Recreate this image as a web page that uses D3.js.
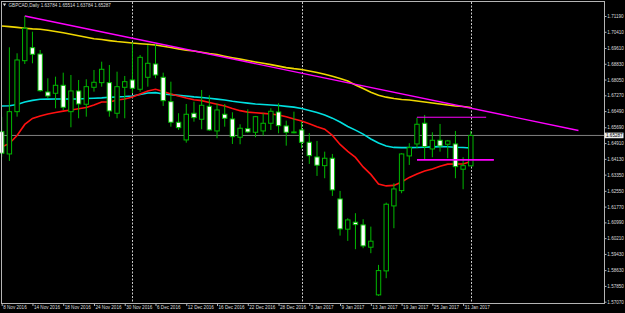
<!DOCTYPE html>
<html>
<head>
<meta charset="utf-8">
<script src="https://cdn.jsdelivr.net/npm/d3@7"></script>
<style>
html, body { margin: 0; padding: 0; background: #000; }
svg { display: block; }
</style>
</head>
<body>
<div id="chart"></div>
<script>
var width = 625,
    height = 313;

var symbol = "GBPCAD,Daily";

var dates = ["2016-11-08","2016-11-09","2016-11-10","2016-11-11","2016-11-14","2016-11-15","2016-11-16","2016-11-17","2016-11-18",
  "2016-11-21","2016-11-22","2016-11-23","2016-11-24","2016-11-25","2016-11-28","2016-11-29","2016-11-30",
  "2016-12-01","2016-12-02","2016-12-05","2016-12-06","2016-12-07","2016-12-08","2016-12-09","2016-12-12","2016-12-13",
  "2016-12-14","2016-12-15","2016-12-16","2016-12-19","2016-12-20","2016-12-21","2016-12-22","2016-12-23","2016-12-26",
  "2016-12-27","2016-12-28","2016-12-29","2016-12-30",
  "2017-01-02","2017-01-03","2017-01-04","2017-01-05","2017-01-06","2017-01-09","2017-01-10","2017-01-11","2017-01-12",
  "2017-01-13","2017-01-16","2017-01-17","2017-01-18","2017-01-19","2017-01-20","2017-01-23","2017-01-24","2017-01-25",
  "2017-01-26","2017-01-27","2017-01-30","2017-01-31","2017-02-01"];

var open = [1.65474,1.64372,1.66462,1.68981,1.69624,1.69312,1.67435,1.67371,1.67766,1.66462,
  1.67485,1.66828,1.67667,1.67895,1.67895,1.66383,1.67667,1.68028,1.67569,1.68161,
  1.68818,1.68161,1.66956,1.65938,1.65064,1.66383,1.66087,1.66729,1.65509,1.66334,
  1.66101,1.65197,1.65622,1.65444,1.65509,1.65889,1.66447,1.65756,1.65444,1.65558,
  1.64950,1.64224,1.63794,1.64160,1.62149,1.60653,1.60998,1.60865,1.59763,1.57407,
  1.58593,1.61804,1.62559,1.64274,1.64866,1.65889,1.64619,1.65049,1.64852,1.64866,
  1.63617,1.63784];

var high = [1.66200,1.69643,1.69347,1.71190,1.70414,1.69510,1.68112,1.68191,1.68389,1.68275,
  1.68028,1.68063,1.68522,1.68932,1.68769,1.68438,1.68226,1.69871,1.69263,1.69757,
  1.69806,1.68389,1.67944,1.66383,1.66842,1.66956,1.67534,1.67272,1.66877,1.66842,
  1.66432,1.65840,1.66581,1.66250,1.66383,1.66630,1.66877,1.66017,1.66462,1.65968,
  1.65395,1.65015,1.64486,1.64372,1.62545,1.61196,1.61443,1.61147,1.60781,1.58889,
  1.61967,1.62925,1.64407,1.64901,1.66166,1.66299,1.65444,1.65854,1.65064,1.65509,
  1.64209,1.65514];

var low = [1.64224,1.64027,1.66215,1.68818,1.68853,1.67450,1.67124,1.66630,1.66546,1.65691,
  1.66136,1.66215,1.67450,1.67697,1.66215,1.66136,1.66136,1.67371,1.67450,1.67697,
  1.68112,1.66744,1.65721,1.65558,1.64930,1.65968,1.65593,1.65509,1.65148,1.65721,
  1.64866,1.64852,1.65410,1.65197,1.65276,1.65558,1.65395,1.64782,1.65395,1.64654,
  1.63878,1.63286,1.63172,1.62298,1.60336,1.60075,1.59665,1.59714,1.59467,1.57358,
  1.58232,1.60702,1.62431,1.63829,1.64654,1.64076,1.64209,1.64486,1.64160,1.63172,
  1.62629,1.63784];

var close = [1.64407,1.66462,1.69016,1.70582,1.69298,1.67499,1.67238,1.67766,1.66679,1.67485,
  1.66842,1.67697,1.67914,1.68557,1.66497,1.67697,1.67944,1.67618,1.69149,1.68853,
  1.68275,1.67005,1.65938,1.65672,1.66334,1.66166,1.66778,1.65558,1.66546,1.66136,
  1.65227,1.65642,1.65459,1.66215,1.65889,1.66482,1.65770,1.65444,1.65459,1.64950,
  1.64288,1.63814,1.64160,1.62594,1.60667,1.61112,1.60880,1.59828,1.60060,1.58607,
  1.61888,1.62643,1.64372,1.64684,1.65840,1.64733,1.65049,1.64768,1.65015,1.63745,
  1.63794,1.65287];

// moving averages, one value per bar
var maRed = [1.64719,1.64892,1.65287,1.65831,1.66127,1.66251,1.66349,1.66424,1.66488,1.66547,
  1.66606,1.66671,1.66794,1.66942,1.66942,1.67041,1.67090,1.67189,1.67337,1.67486,
  1.67570,1.67461,1.67337,1.67239,1.67140,1.67051,1.67006,1.66918,1.66824,1.66745,
  1.66621,1.66512,1.66438,1.66409,1.66379,1.66349,1.66300,1.66211,1.66102,1.66004,
  1.65865,1.65722,1.65599,1.65287,1.64843,1.64497,1.64200,1.63731,1.63361,1.62891,
  1.62793,1.62817,1.62990,1.63213,1.63385,1.63534,1.63632,1.63766,1.63870,1.63879,
  1.63879,1.64003];

var maCyan = [1.66745,1.66755,1.66819,1.66942,1.67021,1.67076,1.67081,1.67090,1.67090,1.67090,
  1.67090,1.67110,1.67125,1.67145,1.67174,1.67189,1.67209,1.67239,1.67313,1.67382,
  1.67402,1.67337,1.67303,1.67268,1.67234,1.67194,1.67165,1.67125,1.67081,1.67041,
  1.66977,1.66927,1.66883,1.66843,1.66819,1.66794,1.66764,1.66725,1.66685,1.66616,
  1.66522,1.66419,1.66300,1.66142,1.65954,1.65732,1.65549,1.65352,1.65114,1.64917,
  1.64769,1.64695,1.64685,1.64685,1.64690,1.64704,1.64724,1.64734,1.64729,1.64704,
  1.64690,1.64670];

var maYellow = [1.70692,1.70667,1.70627,1.70588,1.70553,1.70534,1.70484,1.70425,1.70361,1.70292,
  1.70217,1.70138,1.70064,1.70025,1.69975,1.69931,1.69896,1.69852,1.69822,1.69793,
  1.69758,1.69694,1.69630,1.69565,1.69501,1.69462,1.69402,1.69338,1.69284,1.69205,
  1.69131,1.69057,1.68987,1.68918,1.68854,1.68785,1.68711,1.68637,1.68587,1.68548,
  1.68474,1.68400,1.68311,1.68212,1.68103,1.67980,1.67782,1.67609,1.67426,1.67278,
  1.67179,1.67115,1.67066,1.67041,1.66992,1.66942,1.66893,1.66843,1.66794,1.66745,
  1.66720,1.66671];

// drawn objects: trend line and two horizontal levels (bar index, price)
var trendLine = [[3, 1.71190], [75, 1.65534]];
var levelTop = [[54, 1.66186], [63, 1.66186]];
var levelBottom = [[54, 1.64077], [64, 1.64077]];

var priceTicks = [1.71190,1.70410,1.69610,1.68830,1.68050,1.67270,1.66490,1.65690,1.64910,1.64130,
  1.63350,1.62550,1.61770,1.60990,1.60210,1.59430,1.58630,1.57850,1.57070];

var bid = 1.65287;

var parseDate = d3.timeParse("%Y-%m-%d"),
    fmtDate = d3.timeFormat("%-d %b %Y"),
    fmtPrice = d3.format(".5f");

var days = dates.map(parseDate);
var n = dates.length;

var font = "'Liberation Sans', Arial, sans-serif",
    fontSize = "4.6px",
    green = "#00b800";

var x = d3.scaleLinear().domain([0, 78.32]).range([1.7, 604]);
var y = d3.scaleLinear().domain([1.5707, 1.7119]).range([301.7, 16]);

var svg = d3.select("#chart")
    .append("svg")
    .attr("width", width)
    .attr("height", height)
    .style("background", "#000");

svg.append("defs").append("clipPath")
    .attr("id", "plot")
  .append("rect")
    .attr("x", 0).attr("y", 1.7)
    .attr("width", 604).attr("height", 301.3);

var plot = svg.append("g").attr("clip-path", "url(#plot)");

// month separators
var sepBars = d3.range(1, n).filter(function(i) {
    return days[i].getMonth() != days[i - 1].getMonth();
});
plot.append("g").selectAll("line")
    .data(sepBars)
    .enter().append("line")
    .attr("x1", function(d) { return Math.round(x(d)) + 0.5; })
    .attr("x2", function(d) { return Math.round(x(d)) + 0.5; })
    .attr("y1", 2).attr("y2", 303)
    .style("stroke", "#c8c8c8")
    .style("stroke-dasharray", "2,1.5");

// bid line
plot.append("line")
    .attr("x1", 0).attr("x2", 604)
    .attr("y1", y(bid)).attr("y2", y(bid))
    .style("stroke", "#808080")
    .style("stroke-width", 1);

// moving averages
var maLine = d3.line()
    .x(function(d, i) { return x(i); })
    .y(function(d) { return y(d); });

[[maYellow, "#f0d800"], [maCyan, "#00e0e0"], [maRed, "#ff1010"]].forEach(function(m) {
    plot.append("path")
        .datum(m[0])
        .attr("d", maLine)
        .style("fill", "none")
        .style("stroke", m[1])
        .style("stroke-width", 1.6);
});

var objLine = d3.line()
    .x(function(d) { return x(d[0]); })
    .y(function(d) { return y(d[1]); });

plot.append("path")
    .datum(trendLine)
    .attr("d", objLine)
    .style("fill", "none")
    .style("stroke", "#ff00ff")
    .style("stroke-width", 1.4);

// candles
var candle = plot.append("g").selectAll("g")
    .data(d3.range(n))
    .enter().append("g");

candle.append("line")
    .attr("x1", function(i) { return x(i); })
    .attr("x2", function(i) { return x(i); })
    .attr("y1", function(i) { return y(high[i]); })
    .attr("y2", function(i) { return y(low[i]); })
    .style("stroke", green)
    .style("stroke-width", 1);

candle.append("rect")
    .attr("x", function(i) { return x(i) - 2.2; })
    .attr("width", 4.4)
    .attr("y", function(i) { return y(Math.max(open[i], close[i])); })
    .attr("height", function(i) { return Math.max(0.8, Math.abs(y(open[i]) - y(close[i]))); })
    .style("fill", function(i) { return close[i] >= open[i] ? "#000" : "#fff"; })
    .style("stroke", green)
    .style("stroke-width", 1);

// horizontal levels
[[levelTop, 1], [levelBottom, 1.8]].forEach(function(l) {
    plot.append("path")
        .datum(l[0])
        .attr("d", objLine)
        .style("fill", "none")
        .style("stroke", "#ff00ff")
        .style("stroke-width", l[1]);
});

// frame
svg.append("path")
    .attr("d", "M1.5,303.5V1.5H604.5V303.5H1.5")
    .style("fill", "none")
    .style("stroke", "#b4b4b4")
    .style("shape-rendering", "crispEdges");

// price axis
var yAxis = svg.append("g")
    .attr("transform", "translate(604.5,0)")
    .call(d3.axisRight(y).tickValues(priceTicks).tickSize(2).tickPadding(0.8).tickFormat(fmtPrice));
yAxis.select(".domain").remove();
yAxis.selectAll("line").style("stroke", "#b4b4b4");
yAxis.selectAll("text")
    .style("fill", "#dcdcdc")
    .style("font-family", font)
    .style("font-size", fontSize);

// bid label
svg.append("rect")
    .attr("x", 604.5).attr("y", y(bid) - 2.8)
    .attr("width", 19).attr("height", 5.6)
    .style("fill", "#ececec");
svg.append("text")
    .attr("x", 606).attr("y", y(bid))
    .attr("dy", "0.34em")
    .style("fill", "#000")
    .style("font-family", font)
    .style("font-size", fontSize)
    .text(fmtPrice(bid));

// time axis
var labelBars = d3.range(0, n - 1, 4);
var xAxis = svg.append("g")
    .attr("transform", "translate(0,303.5)")
    .call(d3.axisBottom(x).tickValues(labelBars).tickSize(2.5).tickPadding(0.2)
        .tickFormat(function(i) { return fmtDate(days[i]); }));
xAxis.select(".domain").remove();
xAxis.selectAll("line").style("stroke", "#b4b4b4");
xAxis.selectAll("text")
    .attr("x", 1)
    .attr("text-anchor", "start")
    .style("fill", "#dcdcdc")
    .style("font-family", font)
    .style("font-size", fontSize);

// title
var last = n - 1;
svg.append("path")
    .attr("d", "M2.8,3.6L6.2,3.6L4.5,6.2Z")
    .style("fill", "#dcdcdc");
svg.append("text")
    .attr("x", 8.5).attr("y", 5)
    .attr("dy", "0.34em")
    .style("fill", "#dcdcdc")
    .style("font-family", font)
    .style("font-size", fontSize)
    .text(symbol + "  " + [open[last], high[last], low[last], close[last]].map(fmtPrice).join(" "));
</script>
</body>
</html>
